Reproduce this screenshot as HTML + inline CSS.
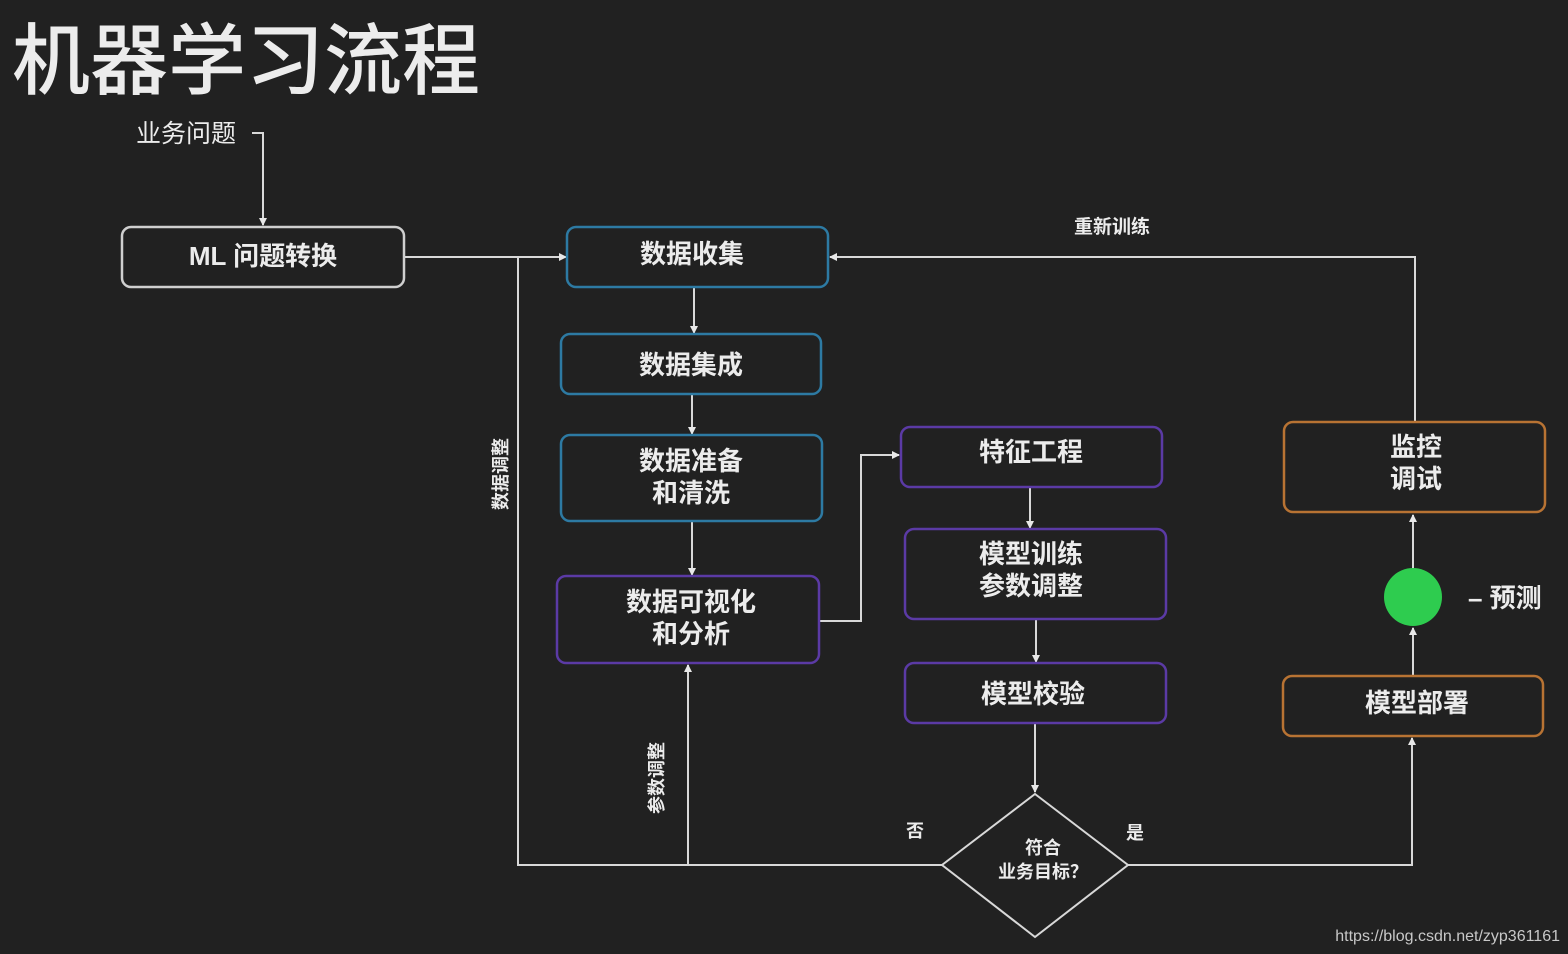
<!DOCTYPE html>
<html><head><meta charset="utf-8"><style>
html,body{margin:0;padding:0;background:#212121;}
svg{display:block}
text{font-family:"Liberation Sans","Noto Sans CJK SC",sans-serif;fill:#ececec;}
</style></head><body>
<svg width="1568" height="954" viewBox="0 0 1568 954" xmlns="http://www.w3.org/2000/svg">
<defs><marker id="a" markerWidth="8" markerHeight="8" refX="7" refY="4" orient="auto" markerUnits="userSpaceOnUse"><path d="M0,0 L8,4 L0,8 z" fill="#e8e8e8"/></marker></defs>
<rect width="1568" height="954" fill="#212121"/>
<text x="12" y="88" font-size="78" font-weight="500" fill="#f2f2f2">机器学习流程</text>
<text x="136" y="142" font-size="25">业务问题</text>
<g stroke="#d8d8d8" stroke-width="2" fill="none">
<path d="M252,133 H263 V225" marker-end="url(#a)"/>
<path d="M404,257 H566" marker-end="url(#a)"/>
<path d="M518,257 V865 H942"/>
<path d="M688,865 V665" marker-end="url(#a)"/>
<path d="M694,287 V333" marker-end="url(#a)"/>
<path d="M692,394 V434" marker-end="url(#a)"/>
<path d="M692,521 V575" marker-end="url(#a)"/>
<path d="M819,621 H861 V455 H899" marker-end="url(#a)"/>
<path d="M1030,487 V528" marker-end="url(#a)"/>
<path d="M1036,619 V662" marker-end="url(#a)"/>
<path d="M1035,723 V792" marker-end="url(#a)"/>
<path d="M1128,865 H1412 V738" marker-end="url(#a)"/>
<path d="M1413,676 V628" marker-end="url(#a)"/>
<path d="M1413,568 V515" marker-end="url(#a)"/>
<path d="M1415,422 V257 H830" marker-end="url(#a)"/>
<path d="M1035,794 L1128,865 L1035,937 L942,865 Z"/>
</g>
<g stroke-width="2.5" fill="none">
<rect x="122" y="227" width="282" height="60" rx="9" stroke="#cfcfcf"/>
<rect x="567" y="227" width="261" height="60" rx="9" stroke="#2d7aa3"/>
<rect x="561" y="334" width="260" height="60" rx="9" stroke="#2d7aa3"/>
<rect x="561" y="435" width="261" height="86" rx="9" stroke="#2d7aa3"/>
<rect x="557" y="576" width="262" height="87" rx="9" stroke="#5b3aa5"/>
<rect x="901" y="427" width="261" height="60" rx="9" stroke="#5b3aa5"/>
<rect x="905" y="529" width="261" height="90" rx="9" stroke="#5b3aa5"/>
<rect x="905" y="663" width="261" height="60" rx="9" stroke="#5b3aa5"/>
<rect x="1284" y="422" width="261" height="90" rx="9" stroke="#b87333"/>
<rect x="1283" y="676" width="260" height="60" rx="9" stroke="#b87333"/>
</g>
<ellipse cx="1413" cy="597" rx="29" ry="29" fill="#2ecc4f"/>
<g font-size="26" font-weight="bold" text-anchor="middle">
<text x="263" y="265">ML 问题转换</text>
<text x="692" y="263">数据收集</text>
<text x="691" y="374">数据集成</text>
<text x="691" y="470">数据准备</text>
<text x="691" y="502">和清洗</text>
<text x="691" y="611">数据可视化</text>
<text x="691" y="643">和分析</text>
<text x="1031" y="461">特征工程</text>
<text x="1031" y="563">模型训练</text>
<text x="1031" y="595">参数调整</text>
<text x="1033" y="703">模型校验</text>
<text x="1416" y="456">监控</text>
<text x="1416" y="488">调试</text>
<text x="1417" y="712">模型部署</text>
</g>
<text x="1112" y="233" font-size="19" font-weight="bold" text-anchor="middle">重新训练</text>
<text x="1043" y="854" font-size="18" font-weight="bold" text-anchor="middle">符合</text>
<text x="1043" y="878" font-size="18" font-weight="bold" text-anchor="middle">业务目标？</text>
<text x="915" y="837" font-size="18" font-weight="bold" text-anchor="middle">否</text>
<text x="1135" y="839" font-size="18" font-weight="bold" text-anchor="middle">是</text>
<text x="1468" y="607" font-size="26" font-weight="bold">– 预测</text>
<text transform="translate(507,474) rotate(-90)" font-size="18" font-weight="bold" text-anchor="middle">数据调整</text>
<text transform="translate(663,778) rotate(-90)" font-size="18" font-weight="bold" text-anchor="middle">参数调整</text>
<text x="1560" y="941" font-size="16" text-anchor="end" fill="#c8c8c8" style="fill:#c8c8c8">https://blog.csdn.net/zyp361161</text>
</svg>
</body></html>
